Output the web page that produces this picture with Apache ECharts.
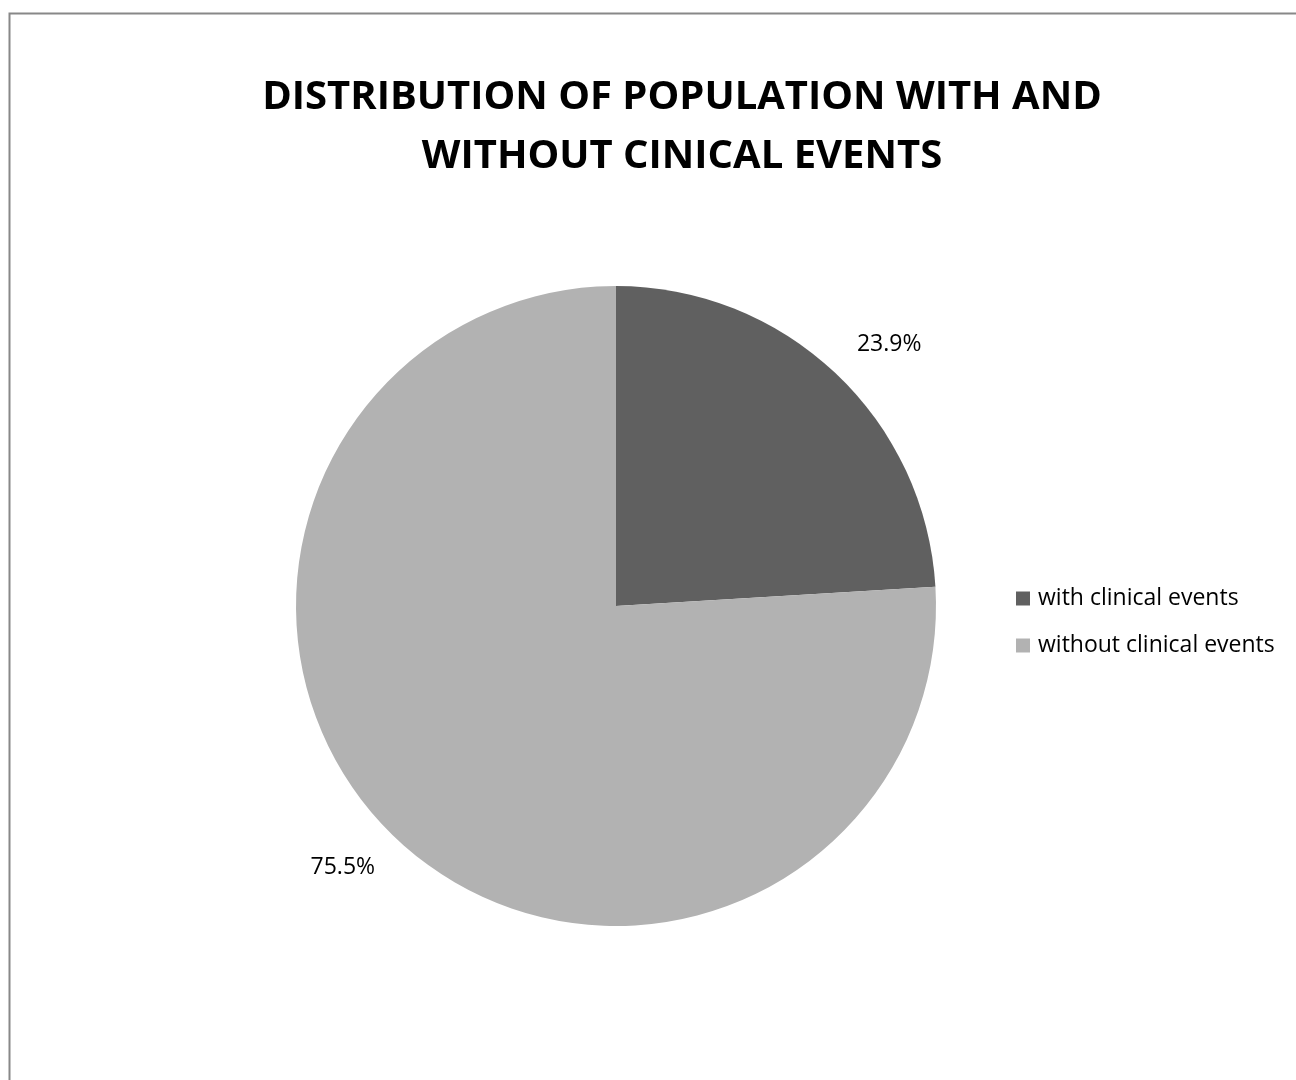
<!DOCTYPE html>
<html><head><meta charset="utf-8">
<script src="https://cdn.jsdelivr.net/npm/echarts@6/dist/echarts.min.js"></script>
<style>html,body{margin:0;padding:0;background:#fff}#c{width:1296px;height:1080px}</style>
</head><body><div id="c"></div>
<script>
const categories = ['with clinical events', 'without clinical events'];
const values = [23.9, 75.5];
const colors = ['#606060', '#b2b2b2'];
const titleLines = ['DISTRIBUTION OF POPULATION WITH AND', 'WITHOUT CINICAL EVENTS'];

const chart = echarts.init(document.getElementById('c'));
const CX = 616, CY = 606, R = 320, LR = 378;
const total = values.reduce((a, b) => a + b, 0);
function midAngle(i) {
  let s = 0; for (let k = 0; k < i; k++) s += values[k];
  return ((s + values[i] / 2) / total) * 360 + 3;
}
chart.setOption({
  animation: false,
  title: {
    text: titleLines.join('\n'),
    left: 677, top: 63, textAlign: 'center',
    textStyle: { fontFamily: 'Open Sans', fontWeight: 'bold', fontSize: 40, lineHeight: 59, color: '#000' }
  },
  legend: {
    orient: 'vertical', left: 1011, top: 582,
    itemWidth: 14, itemHeight: 14, itemGap: 24,
    icon: 'rect',
    textStyle: { fontFamily: 'Open Sans', fontSize: 23, color: '#000', padding: [0, 0, 0, 3] },
    data: categories
  },
  graphic: [{ type: 'rect', shape: { x: 9.5, y: 13.5, width: 1400, height: 1200 }, style: { fill: 'none', stroke: '#888', lineWidth: 2 }, silent: true }],
  series: [{
    type: 'pie',
    center: [CX, CY], radius: R,
    startAngle: 90, clockwise: true,
    data: categories.map((c, i) => ({ name: c, value: values[i], itemStyle: { color: colors[i] } })),
    label: {
      show: true, position: 'outside',
      formatter: p => p.value.toFixed(1) + '%',
      fontFamily: 'Open Sans', fontSize: 23, color: '#000'
    },
    labelLine: { show: false },
    labelLayout: function (p) {
      const a = midAngle(p.dataIndex) * Math.PI / 180;
      return { x: CX + LR * Math.sin(a), y: CY - LR * Math.cos(a), align: 'center', verticalAlign: 'middle' };
    },
    emphasis: { disabled: true }
  }]
});
</script></body></html>
